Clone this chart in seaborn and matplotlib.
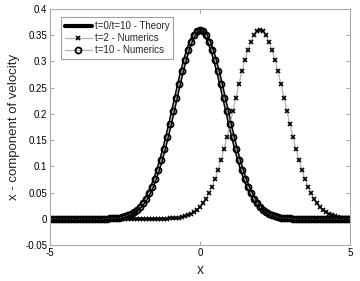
import numpy as np
import matplotlib
matplotlib.use("Agg")
import matplotlib.pyplot as plt
import seaborn as sns

# sample positions (101 grid points on [-5, 5])
x_grid = np.linspace(-5, 5, 101)

# t=0 / t=10 theory profile
u_theory = [
    0, 0, 0, 0, 0, 0, 0, 0, 0, 0,
    0, 0, 0, 0, 0, 0, 0, 0, 0, 0,
    0.001, 0.001, 0.002, 0.002, 0.003, 0.005, 0.007, 0.009, 0.013, 0.017,
    0.023, 0.030, 0.038, 0.049, 0.061, 0.076, 0.093, 0.112, 0.133, 0.156,
    0.180, 0.206, 0.231, 0.257, 0.281, 0.303, 0.322, 0.338, 0.350, 0.358,
    0.360,
    0.358, 0.350, 0.338, 0.322, 0.303, 0.281, 0.257, 0.231, 0.206, 0.180,
    0.156, 0.133, 0.112, 0.093, 0.076, 0.061, 0.049, 0.038, 0.030, 0.023,
    0.017, 0.013, 0.009, 0.007, 0.005, 0.003, 0.002, 0.002, 0.001, 0.001,
    0, 0, 0, 0, 0, 0, 0, 0, 0, 0,
    0, 0, 0, 0, 0, 0, 0, 0, 0, 0,
]

# t=2 numerics (pulse centred at x=2)
u_t2 = [
    0, 0, 0, 0, 0, 0, 0, 0, 0, 0,
    0, 0, 0, 0, 0, 0, 0, 0, 0, 0,
    0, 0, 0, 0, 0, 0, 0, 0, 0, 0,
    0, 0, 0, 0, 0, 0, 0, 0, 0, 0,
    0.001, 0.001, 0.002, 0.002, 0.003, 0.005, 0.007, 0.009, 0.013, 0.017,
    0.023, 0.030, 0.038, 0.049, 0.061, 0.076, 0.093, 0.112, 0.133, 0.156,
    0.180, 0.206, 0.231, 0.257, 0.281, 0.303, 0.322, 0.338, 0.350, 0.358,
    0.360,
    0.358, 0.350, 0.338, 0.322, 0.303, 0.281, 0.257, 0.231, 0.206, 0.180,
    0.156, 0.133, 0.112, 0.093, 0.076, 0.061, 0.049, 0.038, 0.030, 0.023,
    0.017, 0.013, 0.009, 0.007, 0.005, 0.003, 0.002, 0.002, 0.001, 0.001,
]

# t=10 numerics: agree with theory to plotting accuracy
u_t10 = list(u_theory)

y_ticks = [-0.05, 0, 0.05, 0.1, 0.15, 0.2, 0.25, 0.3, 0.35, 0.4]
y_tick_labels = ["-0.05", "0", "0.05", "0.1", "0.15", "0.2", "0.25", "0.3", "0.35", "0.4"]
x_ticks = [-5, 0, 5]

sns.set_style("white")
plt.rcParams["font.family"] = ["Liberation Sans", "DejaVu Sans"]

fig = plt.figure(figsize=(3.6, 2.81), dpi=100)
ax = fig.add_axes([0.139, 0.128, 0.833, 0.84])

sns.lineplot(x=x_grid, y=u_theory, ax=ax, color="black", linewidth=3.0,
             label="t=0/t=10 - Theory")
sns.lineplot(x=x_grid, y=u_t2, ax=ax, color="#b4b4b4", linewidth=0.9,
             marker="x", markersize=3, markeredgecolor="black",
             markeredgewidth=1.2, label="t=2 - Numerics")
sns.lineplot(x=x_grid, y=u_t10, ax=ax, color="#b4b4b4", linewidth=0.9,
             marker="o", markersize=4.3, markerfacecolor="none",
             markeredgecolor="black", markeredgewidth=1.3,
             label="t=10 - Numerics")

ax.set_xlim(-5, 5)
ax.set_ylim(-0.05, 0.4)
ax.set_xticks(x_ticks)
ax.set_xticklabels([str(t) for t in x_ticks])
ax.set_yticks(y_ticks)
ax.set_yticklabels(y_tick_labels)
ax.tick_params(direction="in", length=3, width=0.6, colors="#999999",
               labelcolor="black", labelsize=7, top=True, right=True,
               bottom=True, left=True, pad=2)
for s in ax.spines.values():
    s.set_color("#aaaaaa")
    s.set_linewidth(0.8)

ax.set_xlabel("x", fontsize=10, labelpad=4)
ax.set_ylabel("x - component of velocity", fontsize=9.5, labelpad=4)

leg = ax.legend(loc="upper left", fontsize=7, frameon=True, fancybox=False,
                edgecolor="#888888", handlelength=2.8, borderpad=0.4,
                labelspacing=0.2, handletextpad=0.3,
                bbox_to_anchor=(0.02, 0.985))
leg.get_frame().set_linewidth(0.8)

fig.savefig("out.png", dpi=100)
